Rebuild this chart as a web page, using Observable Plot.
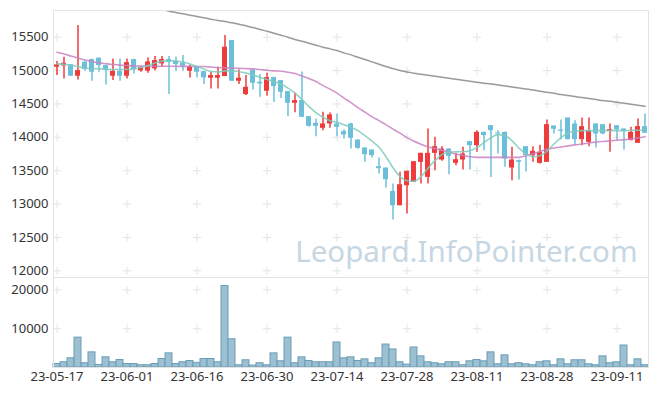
<!DOCTYPE html>
<html>
<head>
<meta charset="utf-8">
<script src="https://cdn.jsdelivr.net/npm/d3@7"></script>
<script src="https://cdn.jsdelivr.net/npm/@observablehq/plot@0.6"></script>
<style>
  body { margin: 0; background: #fff; }
  #chart svg { display: block; overflow: visible; }
</style>
</head>
<body>
<div id="chart"></div>
<script>
const dates = [
  "23-05-17","23-05-18","23-05-19","23-05-22","23-05-23","23-05-24","23-05-25","23-05-26","23-05-30","23-05-31",
  "23-06-01","23-06-02","23-06-05","23-06-07","23-06-08","23-06-09","23-06-12","23-06-13","23-06-14","23-06-15",
  "23-06-16","23-06-19","23-06-20","23-06-21","23-06-22","23-06-23","23-06-26","23-06-27","23-06-28","23-06-29",
  "23-06-30","23-07-03","23-07-04","23-07-05","23-07-06","23-07-07","23-07-10","23-07-11","23-07-12","23-07-13",
  "23-07-14","23-07-17","23-07-18","23-07-19","23-07-20","23-07-21","23-07-24","23-07-25","23-07-26","23-07-27",
  "23-07-28","23-07-31","23-08-01","23-08-02","23-08-03","23-08-04","23-08-07","23-08-08","23-08-09","23-08-10",
  "23-08-11","23-08-14","23-08-16","23-08-17","23-08-18","23-08-21","23-08-22","23-08-23","23-08-24","23-08-25",
  "23-08-28","23-08-29","23-08-30","23-08-31","23-09-01","23-09-04","23-09-05","23-09-06","23-09-07","23-09-08",
  "23-09-11","23-09-12","23-09-13","23-09-14","23-09-15"
];
const open = [15050,15070,15085,14915,15125,15165,15185,15075,14915,14990,
  14915,15165,14995,14990,15025,15100,15165,15140,15110,14990,
  15060,14985,14885,14885,14910,15450,14840,14640,15005,14825,
  14690,14895,14850,14685,14510,14550,14310,14210,14135,14200,
  14200,14085,14200,13960,13840,13810,13560,13540,13190,12975,
  13275,13325,13625,13400,13760,13660,13825,13610,13660,13935,
  13875,14075,14175,14065,14075,13540,13650,13860,13725,13610,
  13625,14170,14110,14290,14200,13965,13925,14200,14190,14090,
  14175,14125,13950,13910,14160];
const close = [15085,15110,14915,15000,15015,14975,15075,15000,14990,14915,
  15120,15010,15050,15130,15150,15165,15125,15090,15065,15060,
  14975,14890,14925,14925,15350,14840,14885,14750,14810,14800,
  14895,14760,14675,14510,14550,14300,14165,14165,14200,14335,
  14150,14035,13985,13835,13740,13725,13530,13365,12975,13290,
  13490,13635,13760,13760,13860,13825,13715,13665,13750,13875,
  14075,14025,14100,14050,13675,13660,13625,13730,13790,13775,
  14190,14120,14090,13965,13965,14160,14100,14050,14050,14115,
  14110,14090,14075,14160,14060];
const high = [15135,15200,15090,15675,15140,15170,15190,15080,15175,15175,
  15175,15170,15060,15190,15210,15210,15210,15200,15225,15085,
  15065,14990,14975,15050,15525,15450,15010,14925,15005,14940,
  14960,14900,14850,14685,14660,14980,14310,14275,14375,14365,
  14350,14115,14210,13960,13840,13810,13690,13540,13300,13475,
  13490,13635,13760,14125,14000,13860,13825,13760,13850,13935,
  14100,14075,14175,14100,14075,13850,13660,13860,13860,13880,
  14260,14170,14260,14290,14250,14290,14290,14200,14190,14200,
  14175,14125,14150,14275,14350];
const low = [14925,14875,14910,14860,14990,14840,14975,14785,14850,14840,
  14875,14950,14975,14960,14995,15045,14640,14985,14990,14890,
  14890,14790,14725,14725,14910,14840,14790,14625,14710,14600,
  14615,14520,14580,14310,14370,14300,14150,14010,14100,14135,
  14010,13975,13825,13820,13625,13690,13450,13240,12760,12975,
  12850,13325,13300,13300,13500,13640,13440,13575,13510,13510,
  13775,13800,13400,13750,13550,13350,13360,13480,13625,13600,
  13625,14050,13960,13965,13890,13875,13860,13840,14040,13775,
  13950,13810,13950,13910,14060];
const volume = [900,1350,2370,7700,1100,3900,660,2620,1350,1930,
  900,900,580,580,900,2190,3640,900,1350,1680,
  1200,2190,2190,1350,21000,7280,580,1860,500,1100,
  580,3640,1600,7700,1100,2620,1680,1350,1350,1350,
  6450,2370,2620,1680,2100,1100,2370,5920,4650,1350,
  750,5160,2870,1350,1100,830,1350,1350,580,1600,
  1930,1600,3900,830,3130,830,1100,830,580,1350,
  1600,580,2100,830,1860,1860,830,580,2870,1100,
  1350,5670,580,2100,580];
const ma5 = [15100,15093,15083,15060,15038,15030,15025,15020,15015,15015,
  15018,15025,15045,15075,15112,15142,15147,15142,15128,15100,
  15060,15022,14985,14980,14995,15000,14982,14962,14932,14900,
  14865,14835,14800,14738,14662,14565,14460,14370,14300,14250,
  14225,14190,14152,14100,14025,13942,13850,13710,13545,13410,
  13350,13342,13410,13538,13650,13740,13778,13785,13785,13800,
  13845,13920,13995,14040,14025,13950,13838,13755,13710,13725,
  13792,13900,13995,14062,14092,14100,14100,14100,14100,14100,
  14100,14100,14105,14105,14110];
const ma20 = [15275,15248,15218,15188,15158,15135,15115,15102,15090,15081,
  15075,15070,15068,15066,15065,15065,15065,15064,15063,15062,
  15061,15060,15053,15045,15040,15038,15033,15030,15025,15015,
  15005,14995,14990,14975,14955,14918,14880,14835,14775,14722,
  14662,14588,14520,14445,14378,14310,14250,14190,14122,14062,
  13995,13942,13898,13860,13830,13808,13778,13750,13728,13710,
  13700,13700,13700,13700,13700,13700,13700,13725,13755,13785,
  13822,13840,13855,13872,13887,13900,13915,13928,13938,13947,
  13956,13965,13977,13990,14010];
const ma60 = [null,null,null,null,null,null,null,null,null,null,
  null,null,null,null,15935,15915,15890,15870,15850,15830,
  15810,15790,15770,15750,15735,15715,15695,15670,15645,15615,
  15590,15560,15530,15500,15465,15440,15410,15380,15350,15325,
  15300,15265,15235,15200,15165,15130,15095,15060,15030,15000,
  14980,14960,14945,14930,14915,14900,14885,14870,14855,14840,
  14825,14810,14800,14785,14770,14755,14740,14725,14710,14690,
  14675,14660,14640,14625,14610,14595,14580,14565,14550,14540,
  14525,14510,14495,14480,14465];
const priceTicks = [12000,12500,13000,13500,14000,14500,15000,15500];
const volumeTicks = [10000,20000];
const dateTicks = ["23-05-17","23-06-01","23-06-16","23-06-30","23-07-14","23-07-28","23-08-11","23-08-28","23-09-11"];
const watermark = "Leopard.InfoPointer.com";

const UP = "#ee3b3b", DOWN = "#6cbfda";
const rows = dates.map((d, i) => ({
  date: d, open: open[i], close: close[i], high: high[i], low: low[i],
  volume: volume[i], ma5: ma5[i], ma20: ma20[i], ma60: ma60[i] == null ? NaN : ma60[i]
}));
const col = d => d.close >= d.open ? UP : DOWN;
const priceCross = dateTicks.flatMap(d => priceTicks.map(p => ({date: d, v: p})));
const volCross = dateTicks.flatMap(d => volumeTicks.map(p => ({date: d, v: p})));

const common = {
  width: 657, marginLeft: 53, marginRight: 9,
  style: {fontFamily: "Noto Sans", fontSize: "13px", color: "#333", background: "transparent"}
};

const price = Plot.plot({
  ...common,
  height: 277, marginTop: 10, marginBottom: 0,
  x: {type: "band", domain: dates, padding: 0, axis: null},
  y: {domain: [11900, 15900], ticks: priceTicks, tickFormat: "d", tickSize: 0, tickPadding: 5, label: null},
  marks: [
    Plot.dot(priceCross, {x: "date", y: "v", symbol: "plus", r: 2.8, stroke: "#e4e4e4", strokeWidth: 1}),
    Plot.text([watermark], {frameAnchor: "bottom-right", text: d => d, dx: -11, dy: -16, fontSize: 29.5, fill: "#c6d7e3", fontFamily: "Noto Sans"}),
    Plot.ruleX(rows, {x: "date", y1: "low", y2: "high", stroke: col, strokeWidth: 1.5}),
    Plot.barY(rows, {x: "date", y1: "open", y2: "close", fill: col, insetLeft: 1, insetRight: 1}),
    Plot.line(rows, {x: "date", y: "ma60", stroke: "#9a9a9a", strokeWidth: 1.5, curve: "monotone-x", clip: true}),
    Plot.line(rows, {x: "date", y: "ma20", stroke: "#c882c2", strokeOpacity: 0.85, strokeWidth: 1.6, curve: "monotone-x"}),
    Plot.line(rows, {x: "date", y: "ma5", stroke: "#80cbbd", strokeOpacity: 0.85, strokeWidth: 1.6, curve: "monotone-x"}),
    Plot.frame({stroke: "#e3e3e3"})
  ]
});

const vol = Plot.plot({
  ...common,
  height: 119, marginTop: 0, marginBottom: 29,
  x: {type: "band", domain: dates, padding: 0, ticks: dateTicks, tickSize: 0, tickPadding: 4, label: null, fontSize: 14},
  y: {domain: [0, 23200], ticks: volumeTicks, tickFormat: "d", tickSize: 0, tickPadding: 5, label: null},
  marks: [
    Plot.dot(volCross, {x: "date", y: "v", symbol: "plus", r: 2.8, stroke: "#e4e4e4", strokeWidth: 1}),
    Plot.barY(rows, {x: "date", y: "volume", fill: "#9cc0d2", stroke: "#6b9db6", strokeWidth: 1}),
    Plot.frame({stroke: "#e3e3e3"})
  ]
});

document.getElementById("chart").append(price, vol);
</script>
</body>
</html>
